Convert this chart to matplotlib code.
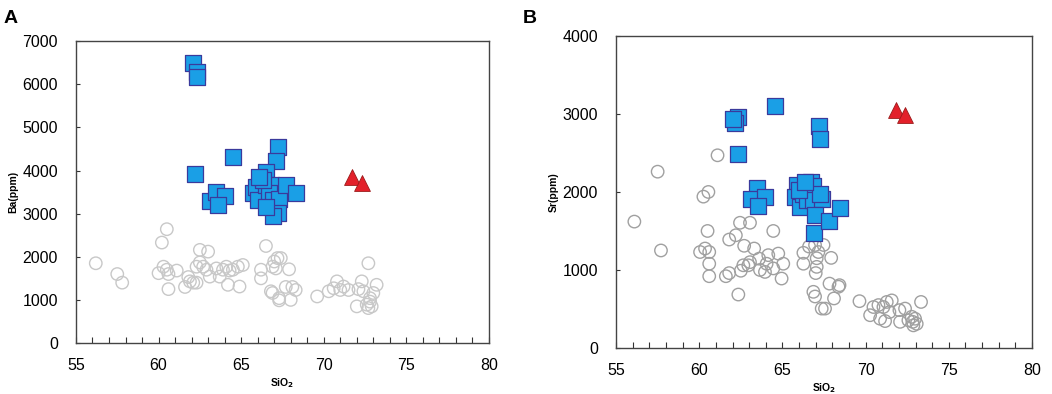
import numpy as np
import matplotlib.pyplot as plt

plt.rcParams['font.family'] = ['Liberation Sans', 'DejaVu Sans']

# ---- Panel A: Ba vs SiO2 ----
a_sq_si = [62.1, 62.3, 62.3, 62.2, 64.5, 67.2, 67.1, 63.1, 63.5, 64.0, 63.6, 66.5,
           65.7, 65.9, 66.0, 66.5, 66.8, 66.7, 66.9, 67.3, 67.2, 66.9, 67.7, 68.3,
           66.5, 66.3, 66.1]
a_sq_ba = [6490, 6280, 6180, 3930, 4320, 4550, 4230, 3290, 3510, 3410, 3200, 3970,
           3480, 3620, 3310, 3660, 3660, 3470, 3310, 3350, 3010, 2950, 3660, 3490,
           3160, 3780, 3850]
a_tri_si = [71.7, 72.3]
a_tri_ba = [3860, 3720]
a_ci_si = [56.2, 57.5, 57.8, 60.2, 60.5, 60.0, 60.3, 60.5, 60.6, 61.1, 60.6, 61.6,
           61.8, 61.9, 62.1, 62.3, 62.5, 63.0, 62.3, 62.5, 62.7, 62.9, 63.1, 63.5,
           63.7, 63.9, 64.1, 64.3, 64.5, 64.2, 64.8, 65.1, 64.9, 66.2, 66.2, 66.5,
           66.9, 67.0, 67.2, 67.4, 67.1, 67.9, 66.8, 66.9, 67.3, 67.3, 67.7, 68.1,
           68.3, 68.0, 69.6, 70.3, 70.6, 70.8, 71.0, 71.2, 71.5, 72.1, 72.3, 72.4,
           72.7, 73.0, 73.2, 72.0, 72.6, 72.8, 72.9, 72.7, 72.8]
a_ci_ba = [1850, 1600, 1400, 2330, 2640, 1620, 1770, 1700, 1600, 1680, 1250, 1300,
           1530, 1430, 1400, 1400, 2160, 2120, 1770, 1870, 1770, 1700, 1540, 1730,
           1540, 1700, 1770, 1680, 1700, 1350, 1770, 1810, 1310, 1700, 1500, 2250,
           1770, 1890, 1970, 1970, 1730, 1710, 1200, 1160, 1040, 990, 1300, 1300,
           1230, 1000, 1080, 1200, 1270, 1430, 1230, 1310, 1230, 1250, 1430, 1200,
           1850, 1160, 1350, 850, 890, 960, 850, 810, 1040]

# ---- Panel B: Sr vs SiO2 ----
b_sq_si = [64.56, 62.35, 62.15, 62.05, 62.35, 67.2, 67.25, 63.5, 63.1, 63.95, 63.55,
           65.86, 65.76, 66.06, 66.26, 66.5, 66.7, 66.86, 66.86, 67.36, 67.25, 66.96,
           66.92, 67.77, 68.43, 66.0, 66.36]
b_sq_sr = [3100, 2965, 2880, 2930, 2485, 2845, 2675, 2045, 1915, 1940, 1820,
           2090, 1940, 1810, 1980, 1900, 2130, 2070, 1895, 1915, 1980, 1700,
           1470, 1625, 1790, 2030, 2130]
b_tri_si = [71.83, 72.37]
b_tri_sr = [3050, 2985]
b_ci_si = [56.1, 57.5, 57.7, 61.1, 60.25, 60.55, 60.5, 60.05, 60.35, 60.6, 60.6, 60.6,
           61.6, 61.8, 61.8, 62.2, 62.45, 63.05, 62.7, 63.3, 62.35, 62.5, 62.65, 62.95,
           63.05, 63.6, 63.65, 63.95, 64.05, 64.15, 64.45, 64.45, 64.75, 65.05, 64.95,
           66.26, 66.26, 66.6, 66.96, 67.16, 67.06, 67.06, 67.0, 67.47, 67.93, 66.86,
           66.96, 67.36, 67.56, 67.83, 68.1, 68.37, 68.43, 69.63, 70.27, 70.47, 70.77,
           71.07, 71.27, 71.57, 70.87, 71.17, 71.43, 72.03, 72.37, 72.07, 72.57, 72.83,
           72.97, 73.07, 72.87, 73.33, 72.77]
b_ci_sr = [1620, 2260, 1250, 2470, 1940, 2000, 1500, 1230, 1275, 1230, 1080, 920,
           920, 960, 1390, 1445, 1605, 1605, 1310, 1275, 685, 990, 1060, 1060,
           1100, 1145, 1000, 975, 1080, 1190, 1020, 1500, 1210, 1080, 890,
           1220, 1080, 1300, 1320, 1230, 1150, 1040, 960, 1320, 1155, 720,
           660, 505, 505, 825, 635, 785, 805, 600, 420, 525, 550,
           525, 590, 610, 375, 345, 460, 485, 505, 335, 355, 335,
           375, 310, 290, 590, 400]

fig = plt.figure(figsize=(10.52, 3.94), dpi=100)
axA = fig.add_axes([0.0722, 0.1294, 0.3926, 0.766])
axB = fig.add_axes([0.5856, 0.1168, 0.3954, 0.792])

sq_face = '#1a9fe6'
sq_edge = '#3a3a9c'


def draw(ax, ci_x, ci_y, ci_col, sq_x, sq_y, tri_x, tri_y, ymax, ylabel):
    ax.scatter(ci_x, ci_y, s=80, facecolors='none', edgecolors=ci_col, linewidths=1.0, zorder=2)
    ax.scatter(sq_x, sq_y, s=125, marker='s', facecolors=sq_face, edgecolors=sq_edge,
               linewidths=0.9, zorder=3)
    ax.scatter(tri_x, tri_y, s=130, marker='^', facecolors='#e3202a', edgecolors='#9a1a1a',
               linewidths=0.6, zorder=4)
    ax.set_xlim(55, 80)
    ax.set_ylim(0, ymax)
    ax.set_xticks(np.arange(55, 81, 5))
    ax.set_xticks(np.arange(55, 81, 1), minor=True)
    ax.set_yticks(np.arange(0, ymax + 1, 1000))
    ax.tick_params(axis='both', which='both', direction='in', labelsize=11.5,
                   colors='#333333', labelcolor='black', width=0.8)
    ax.tick_params(axis='x', which='both', length=4, pad=11)
    ax.tick_params(axis='y', length=3, pad=13)
    for sp in ax.spines.values():
        sp.set_color('#444444')
        sp.set_linewidth(1.0)
    ax.set_xlabel('SiO$_\\mathbf{2}$', fontsize=7.5, fontweight='bold', labelpad=2)
    ax.set_ylabel(ylabel, fontsize=7.5, fontweight='bold', labelpad=3)


draw(axA, a_ci_si, a_ci_ba, '#c8c8c8', a_sq_si, a_sq_ba, a_tri_si, a_tri_ba, 7000, 'Ba(ppm)')
draw(axB, b_ci_si, b_ci_sr, '#a0a0a0', b_sq_si, b_sq_sr, b_tri_si, b_tri_sr, 4000, 'Sr(ppm)')

fig.text(0.003, 0.975, 'A', fontsize=14, fontweight='bold', va='top')
fig.text(0.497, 0.975, 'B', fontsize=14, fontweight='bold', va='top')

fig.savefig('out.png', dpi=100)
